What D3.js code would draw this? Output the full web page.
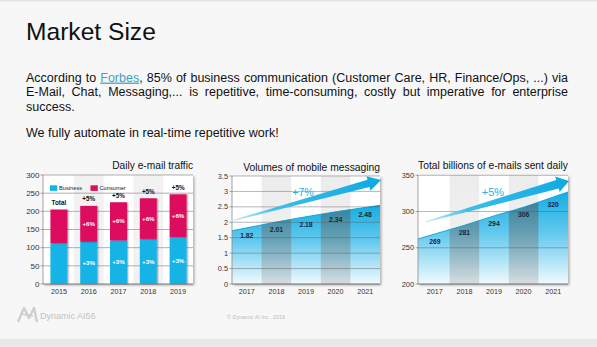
<!DOCTYPE html>
<html>
<head>
<meta charset="utf-8">
<script src="https://cdn.jsdelivr.net/npm/d3@7"></script>
<style>
  html, body { margin: 0; padding: 0; background: #f7f7f7; }
  svg { display: block; font-family: "Liberation Sans", Arial, Helvetica, sans-serif; }
</style>
</head>
<body>
<svg id="slide" width="597" height="347"></svg>
<script>
// ---------- data ----------
// Daily e-mail traffic (billions), split by segment
const trafficYears = ["2015", "2016", "2017", "2018", "2019"];
const businessEmails = [112, 116, 120, 124, 129];
const consumerEmails = [93, 99, 105, 112, 118];
const totalGrowth = ["Total", "+5%", "+5%", "+5%", "+5%"];
const consumerGrowth = [null, "+6%", "+6%", "+6%", "+6%"];
const businessGrowth = [null, "+3%", "+3%", "+3%", "+3%"];
const trafficTicks = [0, 50, 100, 150, 200, 250, 300];
const trafficSeries = ["Business", "Consumer"];

// Volumes of mobile messaging
const mobileYears = ["2017", "2018", "2019", "2020", "2021"];
const mobileVolumes = [1.82, 2.01, 2.18, 2.34, 2.48];
const mobileTicks = [0, 0.5, 1, 1.5, 2, 2.5, 3, 3.5];
const mobileGrowth = "+7%";

// Total billions of e-mails sent daily
const sentYears = ["2017", "2018", "2019", "2020", "2021"];
const sentVolumes = [269, 281, 294, 306, 320];
const sentTicks = [200, 250, 300, 350];
const sentGrowth = "+5%";

// ---------- slide ----------
const W = 597, H = 347;
const CYAN = "#19b4e6", MAGENTA = "#dc0f5e";
const svg = d3.select("#slide");
const defs = svg.append("defs");

const shadow = defs.append("filter").attr("id", "plotShadow")
  .attr("x", "-5%").attr("y", "-5%").attr("width", "115%").attr("height", "115%");
shadow.append("feDropShadow").attr("dx", 1.6).attr("dy", 1.4).attr("stdDeviation", 1.1)
  .attr("flood-color", "#000").attr("flood-opacity", 0.28);

const barShadow = defs.append("filter").attr("id", "barShadow")
  .attr("x", "-20%").attr("y", "-5%").attr("width", "150%").attr("height", "115%");
barShadow.append("feDropShadow").attr("dx", 1.4).attr("dy", 0.5).attr("stdDeviation", 0.7)
  .attr("flood-color", "#000").attr("flood-opacity", 0.3);

function vGrad(id, stops) {
  const g = defs.append("linearGradient").attr("id", id)
    .attr("x1", 0).attr("y1", 0).attr("x2", 0).attr("y2", 1);
  stops.forEach(s => g.append("stop").attr("offset", s[0])
    .attr("stop-color", s[1]).attr("stop-opacity", s[2] == null ? 1 : s[2]));
}
vGrad("colGrad", [[0, "#e6e6e6"], [1, "#f2f2f2"]]);
vGrad("areaGrad", [[0, "#14ade3"], [0.45, "#63c9ee"], [1, "#f1fafd"]]);
vGrad("darkCol", [[0, "#3b3b3b", 0.55], [0.55, "#6d6d6d", 0.45], [1, "#9a9a9a", 0.3]]);
vGrad("lightCol", [[0, "#ececec"], [1, "#f4f4f4"]]);

svg.append("rect").attr("width", W).attr("height", H).attr("fill", "#f7f7f7");
svg.append("rect").attr("width", W).attr("height", 1.5).attr("fill", "#e2e2e2");
svg.append("rect").attr("y", 338.5).attr("width", W).attr("height", H - 338.5).attr("fill", "#e8e8e8");

svg.append("text").attr("x", 26).attr("y", 40).attr("font-size", 24.6)
  .attr("fill", "#111").text("Market Size");

// Justified paragraph lines
const textLeft = 26, textWidth = 542;
function justify(t) {
  const natural = t.node().getComputedTextLength();
  const spaces = (t.node().textContent.match(/ /g) || []).length;
  t.style("word-spacing", ((textWidth - natural) / spaces) + "px");
}
const line1 = svg.append("text").attr("x", textLeft).attr("y", 81.6)
  .attr("font-size", 12.5).attr("fill", "#111");
line1.append("tspan").text("According to ");
line1.append("tspan").attr("fill", "#3f9fc8").attr("text-decoration", "underline").text("Forbes");
line1.append("tspan").text(", 85% of business communication (Customer Care, HR, Finance/Ops, ...) via");
justify(line1);

const line2 = svg.append("text").attr("x", textLeft).attr("y", 96)
  .attr("font-size", 12.5).attr("fill", "#111")
  .text("E-Mail, Chat, Messaging,... is repetitive, time-consuming, costly but imperative for enterprise");
justify(line2);

svg.append("text").attr("x", textLeft).attr("y", 110.6)
  .attr("font-size", 12.5).attr("fill", "#111").text("success.");

svg.append("text").attr("x", textLeft).attr("y", 137.2)
  .attr("font-size", 12.5).attr("fill", "#111").text("We fully automate in real-time repetitive work!");

// ---------- chart 1: stacked bars ----------
(function () {
  const L = 43, R = 193;
  const x = d3.scaleBand().domain(trafficYears).range([44, 193]);
  const y = d3.scaleLinear().domain([0, 300]).range([284, 175]);
  const g = svg.append("g");
  const T = y(300), B = y(0);

  g.append("rect").attr("x", L).attr("y", T).attr("width", R - L).attr("height", B - T)
    .attr("fill", "#fff").attr("filter", "url(#plotShadow)");
  g.selectAll("rect.col").data(trafficYears.filter((d, i) => i % 2 === 1)).join("rect")
    .attr("x", d => x(d)).attr("y", T).attr("width", x.bandwidth()).attr("height", B - T)
    .attr("fill", "#f2f2f2");

  g.selectAll("line.grid").data(trafficTicks.slice(1)).join("line")
    .attr("x1", L).attr("x2", R).attr("y1", d => y(d)).attr("y2", d => y(d))
    .attr("stroke", "#9c9c9c").attr("stroke-width", 0.8);

  const rows = trafficYears.map((yr, i) => ({ year: yr, Business: businessEmails[i], Consumer: consumerEmails[i] }));
  const stacked = d3.stack().keys(trafficSeries)(rows);
  const color = d3.scaleOrdinal().domain(trafficSeries).range([CYAN, MAGENTA]);
  const barW = 17;

  g.selectAll("g.layer").data(stacked).join("g").attr("fill", d => color(d.key))
    .selectAll("rect").data(d => d).join("rect")
    .attr("x", d => x(d.data.year) + x.bandwidth() / 2 - barW / 2)
    .attr("width", barW)
    .attr("y", d => y(d[1]))
    .attr("height", d => y(d[0]) - y(d[1]))
    .attr("filter", "url(#barShadow)");

  // axes
  g.append("line").attr("x1", L).attr("x2", L).attr("y1", T).attr("y2", B)
    .attr("stroke", "#8c8c8c").attr("stroke-width", 0.8);
  g.append("line").attr("x1", L).attr("x2", R).attr("y1", B).attr("y2", B)
    .attr("stroke", "#7a7a7a").attr("stroke-width", 1);
  g.selectAll("line.tick").data(trafficTicks).join("line")
    .attr("x1", L - 2.5).attr("x2", L).attr("y1", d => y(d)).attr("y2", d => y(d))
    .attr("stroke", "#8c8c8c").attr("stroke-width", 0.8);
  g.selectAll("text.ylab").data(trafficTicks).join("text")
    .attr("x", L - 3.5).attr("y", d => y(d)).attr("dy", "0.35em")
    .attr("text-anchor", "end").attr("font-size", 8).attr("fill", "#333")
    .text(d => d);
  g.selectAll("text.xlab").data(trafficYears).join("text")
    .attr("x", d => x(d) + x.bandwidth() / 2).attr("y", 294)
    .attr("text-anchor", "middle").attr("font-size", 7.2).attr("fill", "#333")
    .text(d => d);

  // labels
  const totals = trafficYears.map((d, i) => businessEmails[i] + consumerEmails[i]);
  g.selectAll("text.tot").data(trafficYears).join("text")
    .attr("x", d => x(d) + x.bandwidth() / 2)
    .attr("y", (d, i) => y(totals[i]) - 4.5)
    .attr("text-anchor", "middle").attr("font-size", 6.3).attr("font-weight", "bold")
    .attr("fill", "#111").text((d, i) => totalGrowth[i]);
  g.selectAll("text.cons").data(trafficYears).join("text")
    .attr("x", d => x(d) + x.bandwidth() / 2)
    .attr("y", (d, i) => y(businessEmails[i] + consumerEmails[i] / 2))
    .attr("dy", "0.35em")
    .attr("text-anchor", "middle").attr("font-size", 6.2).attr("font-weight", "bold")
    .attr("fill", "#fff").text((d, i) => consumerGrowth[i] || "");
  g.selectAll("text.bus").data(trafficYears).join("text")
    .attr("x", d => x(d) + x.bandwidth() / 2)
    .attr("y", (d, i) => y(businessEmails[i] / 2))
    .attr("dy", "0.35em")
    .attr("text-anchor", "middle").attr("font-size", 6.2).attr("font-weight", "bold")
    .attr("fill", "#fff").text((d, i) => businessGrowth[i] || "");

  // legend
  const lg = g.append("g");
  const legX = [50, 90.5];
  trafficSeries.forEach((s, i) => {
    lg.append("rect").attr("x", legX[i]).attr("y", 185.3).attr("width", 7.3).attr("height", 5.6)
      .attr("fill", color(s));
    lg.append("text").attr("x", legX[i] + 9).attr("y", 190.4).attr("font-size", 5.7)
      .attr("fill", "#222").text(s);
  });

  g.append("text").attr("x", 193).attr("y", 169).attr("text-anchor", "end")
    .attr("font-size", 10.2).attr("fill", "#111").text("Daily e-mail traffic");
})();

// ---------- charts 2 and 3: growth areas ----------
function drawAreaChart(cfg) {
  const g = svg.append("g");
  const x = d3.scaleBand().domain(cfg.years).range(cfg.bandRange);
  const y = d3.scaleLinear().domain(cfg.domain).range(cfg.yRange);
  const L = cfg.left, R = cfg.right, T = y(cfg.domain[1]), B = y(cfg.domain[0]);
  const cx = d => x(d) + x.bandwidth() / 2;

  g.append("rect").attr("x", L).attr("y", T).attr("width", R - L).attr("height", B - T)
    .attr("fill", "#fff").attr("filter", "url(#plotShadow)");

  const shadedYears = cfg.years.filter((d, i) => i % 2 === 1);
  g.selectAll("rect.col").data(shadedYears).join("rect")
    .attr("x", d => x(d)).attr("y", T).attr("width", x.bandwidth()).attr("height", B - T)
    .attr("fill", "url(#lightCol)");

  // area through each year's value, carried out to the plot edges along the end segments
  const pts = cfg.years.map((d, i) => [cx(d), cfg.values[i]]);
  const n = pts.length;
  const leftV = pts[0][1] - (pts[1][1] - pts[0][1]) * (pts[0][0] - L) / (pts[1][0] - pts[0][0]);
  const rightV = pts[n - 1][1] + (pts[n - 1][1] - pts[n - 2][1]) * (R - pts[n - 1][0]) / (pts[n - 1][0] - pts[n - 2][0]);
  const line = [[L, leftV], ...pts, [R, rightV]];

  const area = d3.area().x(d => d[0]).y0(B).y1(d => y(d[1])).curve(d3.curveMonotoneX);
  const top = d3.line().x(d => d[0]).y(d => y(d[1])).curve(d3.curveMonotoneX);

  g.append("path").attr("d", area(line)).attr("fill", "url(#areaGrad)");

  const clipId = cfg.id + "-clip";
  defs.append("clipPath").attr("id", clipId).append("path").attr("d", area(line));
  g.append("g").attr("clip-path", `url(#${clipId})`)
    .selectAll("rect").data(shadedYears).join("rect")
    .attr("x", d => x(d)).attr("y", T).attr("width", x.bandwidth()).attr("height", B - T)
    .attr("fill", "url(#darkCol)");

  g.append("path").attr("d", top(line)).attr("fill", "none")
    .attr("stroke", "#0c9fd6").attr("stroke-width", 0.9);

  // grid + axes
  g.selectAll("line.grid").data(cfg.ticks.slice(1)).join("line")
    .attr("x1", L).attr("x2", R).attr("y1", d => y(d)).attr("y2", d => y(d))
    .attr("stroke", "#5a5a5a").attr("stroke-opacity", 0.55).attr("stroke-width", 0.8);
  g.append("line").attr("x1", L).attr("x2", L).attr("y1", T).attr("y2", B)
    .attr("stroke", "#8c8c8c").attr("stroke-width", 0.8);
  g.append("line").attr("x1", L).attr("x2", R).attr("y1", B).attr("y2", B)
    .attr("stroke", "#6f6f6f").attr("stroke-width", 1);
  g.selectAll("line.tick").data(cfg.ticks).join("line")
    .attr("x1", L - 2.5).attr("x2", L).attr("y1", d => y(d)).attr("y2", d => y(d))
    .attr("stroke", "#8c8c8c").attr("stroke-width", 0.8);
  g.selectAll("text.ylab").data(cfg.ticks).join("text")
    .attr("x", L - 4).attr("y", d => y(d)).attr("dy", "0.35em")
    .attr("text-anchor", "end").attr("font-size", 7.4).attr("fill", "#333")
    .text(d => d);
  g.selectAll("text.xlab").data(cfg.years).join("text")
    .attr("x", cx).attr("y", 294)
    .attr("text-anchor", "middle").attr("font-size", 7.2).attr("fill", "#333")
    .text(d => d);

  // value labels
  g.selectAll("text.val").data(cfg.years).join("text")
    .attr("x", cx).attr("y", (d, i) => y(cfg.values[i]) + 10)
    .attr("text-anchor", "middle").attr("font-size", 6.8).attr("font-weight", "bold")
    .attr("fill", "#16263a").text((d, i) => cfg.labels(cfg.values[i]));

  // growth arrow
  const [tx, ty] = cfg.tail, [px, py] = cfg.tip;
  const len = Math.hypot(px - tx, py - ty);
  const ux = (px - tx) / len, uy = (py - ty) / len;
  const nx = -uy, ny = ux;
  const bx = px - ux * cfg.headLen, by = py - uy * cfg.headLen;
  const pt = (x0, y0, k) => [x0 + nx * k, y0 + ny * k];
  const poly = [
    pt(tx, ty, 0.4), pt(bx, by, cfg.shaftW), pt(bx, by, cfg.headW), [px, py],
    pt(bx, by, -cfg.headW), pt(bx, by, -cfg.shaftW), pt(tx, ty, -0.4)
  ];
  const gid = cfg.id + "-arrow";
  const ag = defs.append("linearGradient").attr("id", gid).attr("gradientUnits", "userSpaceOnUse")
    .attr("x1", tx).attr("y1", ty).attr("x2", px).attr("y2", py);
  ag.append("stop").attr("offset", 0).attr("stop-color", "#cdeef9");
  ag.append("stop").attr("offset", 0.3).attr("stop-color", "#3dbde9");
  ag.append("stop").attr("offset", 1).attr("stop-color", "#0fa9e3");
  g.append("path").attr("d", d3.line()(poly) + "Z").attr("fill", `url(#${gid})`);

  g.append("text").attr("x", cfg.growthAt[0]).attr("y", cfg.growthAt[1])
    .attr("text-anchor", "middle").attr("font-size", cfg.growthSize)
    .attr("fill", "#25b3e3").text(cfg.growth);

  g.append("text").attr("x", cfg.titleX).attr("y", cfg.titleY).attr("text-anchor", "end")
    .attr("font-size", 10.3).attr("fill", "#111").text(cfg.title);
}

drawAreaChart({
  id: "mobile",
  years: mobileYears, values: mobileVolumes, ticks: mobileTicks,
  domain: [0, 3.5], yRange: [284, 176],
  left: 232, right: 380, bandRange: [232, 380],
  labels: v => v.toFixed(2),
  tail: [231, 221], tip: [381, 180], headLen: 13, shaftW: 3.8, headW: 7.5,
  growth: mobileGrowth, growthAt: [303, 196], growthSize: 10.6,
  title: "Volumes of mobile messaging", titleX: 380, titleY: 171
});

drawAreaChart({
  id: "sent",
  years: sentYears, values: sentVolumes, ticks: sentTicks,
  domain: [200, 350], yRange: [284, 175.3],
  left: 418, right: 568, bandRange: [420, 568],
  labels: v => String(v),
  tail: [425, 222], tip: [569, 181], headLen: 12, shaftW: 4.5, headW: 8,
  growth: sentGrowth, growthAt: [493, 196], growthSize: 11,
  title: "Total billions of e-mails sent daily", titleX: 568, titleY: 168.5
});

// ---------- footer ----------
const foot = svg.append("g").attr("fill", "none").attr("stroke", "#cfcfcf")
  .attr("stroke-width", 2.4).attr("stroke-linejoin", "round");
foot.append("path").attr("d", "M18,322 L24,308 L29,318 L34,308 L37,322");
foot.append("path").attr("d", "M21,314 L33,316").attr("stroke-width", 1.4);
svg.append("text").attr("x", 40).attr("y", 318.5).attr("font-size", 9)
  .attr("fill", "#c2c2c2").text("Dynamic AI56");
svg.append("text").attr("x", 256).attr("y", 318.5).attr("text-anchor", "middle")
  .attr("font-size", 5.4).attr("fill", "#bcbcbc").text("© Dynamic AI Inc., 2019");
</script>
</body>
</html>
